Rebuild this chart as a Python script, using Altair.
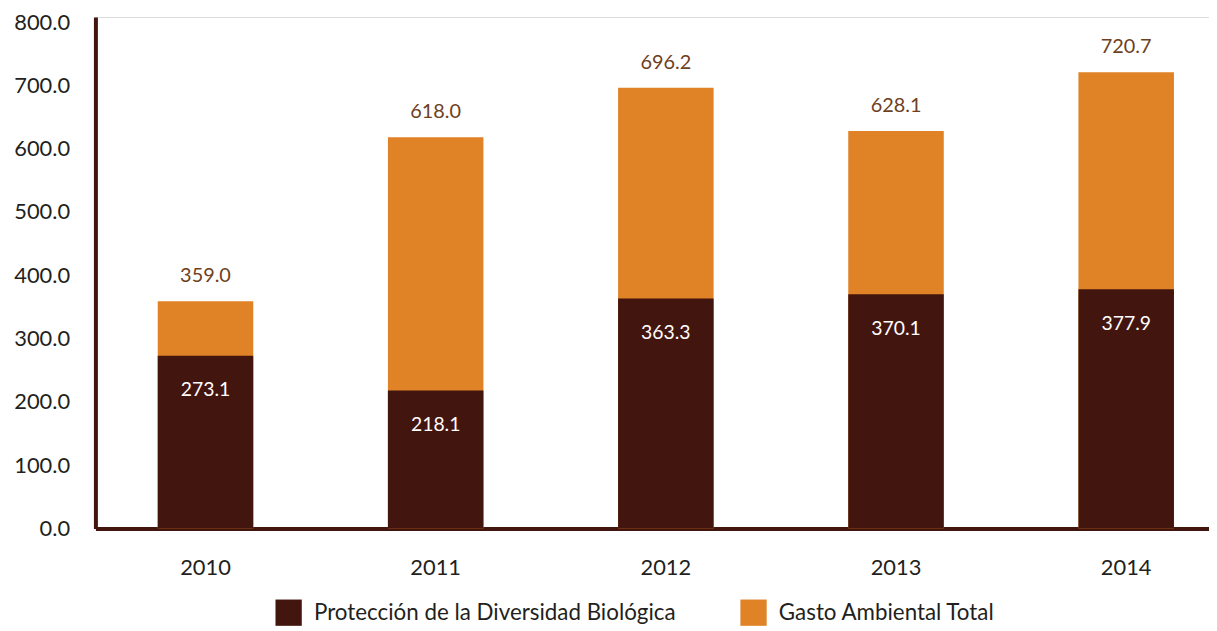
import altair as alt
import pandas as pd

years = ["2010", "2011", "2012", "2013", "2014"]
proteccion = [273.1, 218.1, 363.3, 370.1, 377.9]
gasto_total = [359.0, 618.0, 696.2, 628.1, 720.7]
series_names = ["Protección de la Diversidad Biológica", "Gasto Ambiental Total"]
y_ticks = [0, 100, 200, 300, 400, 500, 600, 700, 800]

DARK = "#43150F"
ORANGE = "#E08226"
LABEL_BROWN = "#6E4020"
FONT = "Lato"

rows = []
for y, p, g in zip(years, proteccion, gasto_total):
    rows.append({"year": y, "series": series_names[1], "value": g})
    rows.append({"year": y, "series": series_names[0], "value": p})
df = pd.DataFrame(rows)

x_enc = alt.X(
    "year:N",
    title=None,
    sort=years,
    scale=alt.Scale(paddingInner=0.585, paddingOuter=0.2115, align=0.64),
    axis=alt.Axis(labelAngle=0, labelFontSize=22, labelPadding=29, labelColor="#231F20",
                  labelFont=FONT, domainColor=DARK, domainWidth=4, ticks=False, grid=False),
)
y_scale = alt.Scale(domain=[0, 808], nice=False)
y_enc = alt.Y(
    "value:Q",
    title=None,
    stack=None,
    scale=y_scale,
    axis=alt.Axis(values=y_ticks, format=".1f", labelFontSize=22, labelPadding=26,
                  labelColor="#231F20", labelFont=FONT, domainColor=DARK, domainWidth=4,
                  ticks=False, grid=False),
)
color_enc = alt.Color(
    "series:N",
    scale=alt.Scale(domain=series_names, range=[DARK, ORANGE]),
    legend=alt.Legend(
        title=None, orient="none", legendX=181, legendY=586, direction="horizontal",
        symbolType="square", symbolSize=700, symbolStrokeWidth=0, symbolOpacity=1,
        labelFontSize=22.5, labelFont=FONT, labelColor="#231F20", columnPadding=64,
        labelOffset=12, labelLimit=500,
    ),
)

base = alt.Chart(df)

orange_bars = base.transform_filter(alt.datum.series == series_names[1]).mark_bar().encode(
    x=x_enc, y=y_enc, color=color_enc
)
dark_bars = base.transform_filter(alt.datum.series == series_names[0]).mark_bar().encode(
    x=x_enc, y=y_enc, color=color_enc
)
total_labels = base.transform_filter(alt.datum.series == series_names[1]).mark_text(
    dy=-25, fontSize=20, font=FONT, color=LABEL_BROWN, baseline="middle"
).encode(x=x_enc, y=y_enc, text=alt.Text("value:Q", format=".1f"))
prot_labels = base.transform_filter(alt.datum.series == series_names[0]).mark_text(
    dy=35, fontSize=19.5, font=FONT, color="white", baseline="middle"
).encode(x=x_enc, y=y_enc, text=alt.Text("value:Q", format=".1f"))

chart = alt.layer(orange_bars, dark_bars, total_labels, prot_labels).properties(
    width=1121, height=515,
    padding={"left": 88, "top": 7, "right": 0, "bottom": 100},
    autosize=alt.AutoSizeParams(type="none"),
).configure_view(stroke=None).configure(font=FONT)

chart.save("out.html", embed_options={"renderer": "svg", "actions": False})
